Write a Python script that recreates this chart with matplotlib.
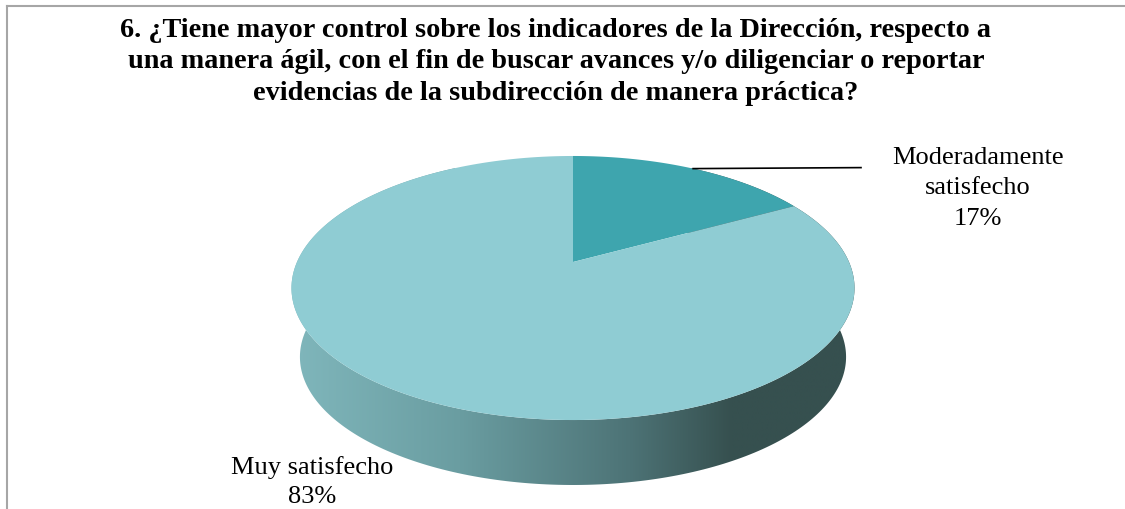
import matplotlib
matplotlib.use("Agg")
import matplotlib.pyplot as plt
import numpy as np
from matplotlib.patches import Polygon
from matplotlib.colors import LinearSegmentedColormap

# ── データ ───────────────────────────────────────────────
TITLE = ("6. ¿Tiene mayor control sobre los indicadores de la Dirección, respecto a\n"
         "una manera ágil, con el fin de buscar avances y/o diligenciar o reportar\n"
         "evidencias de la subdirección de manera práctica?")
CATEGORIES = ["Moderadamente\nsatisfecho", "Muy satisfecho"]
PERCENTS = [17, 83]
TOP_COLORS = ["#3EA5AE", "#8FCCD3"]
WALL_COLORS = ["#80B7BC", "#6A9DA1", "#4D7376", "#36504F", "#36504F"]
WALL_POS = [0.0, 0.3, 0.6, 0.78, 1.0]

# ── 3D パイの形状 (pixel 座標) ──────────────────────────
W, H = 1125, 510
CX, CY = 573, 263          # apex of top face
RX, RY = 276, 126.9
K = 0.197                  # perspective
S_BOT, DEPTH = 0.97, 69.7


def project(phi, bottom=False):
    u, v = np.sin(phi), np.cos(phi)
    w = 1 + K * v
    s = S_BOT if bottom else 1.0
    off = DEPTH if bottom else 0.0
    return CX + s * RX * u / w, CY + off - s * RY * v / w


fig = plt.figure(figsize=(W / 100, H / 100), dpi=100)
ax = fig.add_axes([0, 0, 1, 1])
ax.set_xlim(0, W)
ax.set_ylim(H, 0)
ax.axis("off")

serif = ["Liberation Serif", "DejaVu Serif"]

# side wall (gradient)
phis = np.linspace(np.radians(30), np.radians(330), 300)
tx, ty = project(phis)
bx, by = project(phis[::-1], bottom=True)
wall = Polygon(np.column_stack([np.r_[tx, bx], np.r_[ty, by]]),
               closed=True, facecolor="none", edgecolor="none")
ax.add_patch(wall)
cmap = LinearSegmentedColormap.from_list("wall", list(zip(WALL_POS, WALL_COLORS)))
x0, x1 = CX - RX * 1.03, CX + RX * 1.03
grad = np.linspace(0, 1, 256).reshape(1, -1)
im = ax.imshow(grad, cmap=cmap, extent=[x0, x1, 500, 150], aspect="auto",
               interpolation="bilinear", zorder=1)
im.set_clip_path(wall)

# top face slices
fracs = np.array(PERCENTS, dtype=float) / sum(PERCENTS)
edges = np.r_[0, np.cumsum(fracs)] * 2 * np.pi
for i, col in enumerate(TOP_COLORS):
    a = np.linspace(edges[i], edges[i + 1], 200)
    px, py = project(a)
    poly = Polygon(np.column_stack([np.r_[CX, px], np.r_[CY, py]]), closed=True,
                   facecolor=col, edgecolor="none", zorder=2)
    ax.add_patch(poly)

# labels
mid0 = (edges[0] + edges[1]) / 2
lx, ly = project(mid0)
ax.plot([lx, 861], [ly, ly - 1], color="black", lw=1.2, zorder=3)
ax.text(978, 188.5, f"{CATEGORIES[0]}\n{PERCENTS[0]}%", ha="center", va="center",
        fontsize=19, family=serif, linespacing=1.5, zorder=4)
ax.text(312, 482, f"{CATEGORIES[1]}\n{PERCENTS[1]}%", ha="center", va="center",
        fontsize=19, family=serif, linespacing=1.42, zorder=4)

# title
ax.text(556, 62, TITLE, ha="center", va="center", fontsize=20.3, fontweight="bold",
        family=serif, linespacing=1.36, zorder=4)

# frame
ax.plot([7, W], [7, 7], color="#A6A6A6", lw=1.5, zorder=5)
ax.plot([7, 7], [7, H], color="#A6A6A6", lw=1.5, zorder=5)

fig.savefig("out.png", dpi=100)
